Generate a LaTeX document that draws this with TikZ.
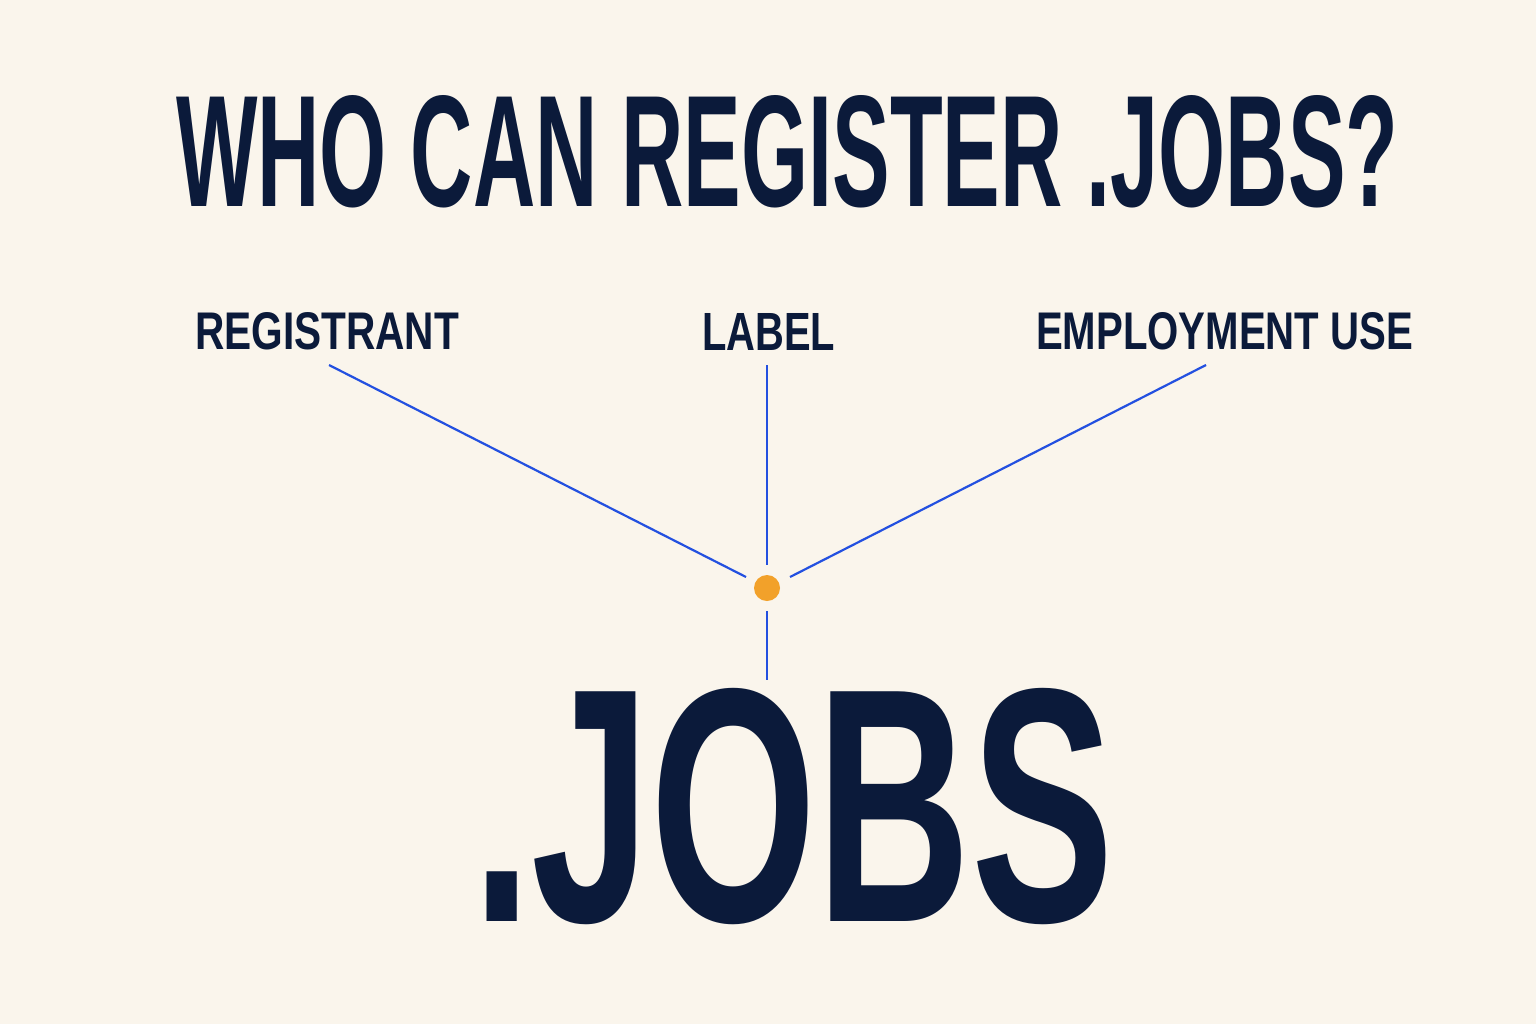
\documentclass[tikz,border=0pt]{standalone}
\usepackage{fontspec}
\setmainfont{Liberation Sans}
\newlength\pxu
\setlength\pxu{0.5pt}
\definecolor{bgc}{HTML}{FAF5EC}
\definecolor{navy}{HTML}{0B1A3A}
\definecolor{lineblue}{HTML}{2350E0}
\definecolor{dotorange}{HTML}{F2A12A}
\tikzset{
  txt/.style={inner sep=0pt, outer sep=0pt, anchor=south west, text=navy, font=\bfseries},
  conn/.style={draw=lineblue, line width=1.1pt},
}
\begin{document}
\begin{tikzpicture}[x=0.5pt,y=-0.5pt]
\fill[bgc] (0,0) rectangle (1536,1024);
\useasboundingbox (0,0) rectangle (1536,1024);
% title
\node[txt] (title) at (176,208) {\resizebox{1222\pxu}{111\pxu}{WHO CAN REGISTER .JOBS?}};
% labels
\node[txt] (reg) at (195,350) {\resizebox{264\pxu}{37\pxu}{REGISTRANT}};
\node[txt] (lab) at (702,350) {\resizebox{133\pxu}{37\pxu}{LABEL}};
\node[txt] (emp) at (1036,350) {\resizebox{377\pxu}{37\pxu}{EMPLOYMENT USE}};
% big .JOBS
\node[txt] (jobs) at (472,925) {\resizebox{642\pxu}{233\pxu}{.JOBS}};
% connector ends
\coordinate (r0) at (329,365);
\coordinate (l0) at (767,365);
\coordinate (e0) at (1206,365);
\coordinate (r1) at (746,577);
\coordinate (l1) at (767,565);
\coordinate (e1) at (790,577);
\coordinate (d0) at (767,611);
\coordinate (d1) at (767,680);
\node[circle, fill=dotorange, inner sep=0pt, minimum size=26\pxu] (hub) at (767,588) {};
\draw[conn] (r0) -- (r1);
\draw[conn] (l0) -- (l1);
\draw[conn] (e0) -- (e1);
\draw[conn] (d0) -- (d1);
\end{tikzpicture}
\end{document}
